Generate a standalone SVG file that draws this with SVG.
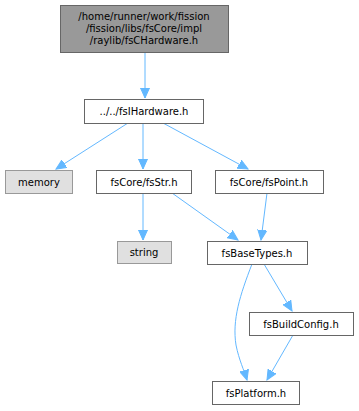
<svg xmlns="http://www.w3.org/2000/svg" width="359" height="411" viewBox="0 0 359 411">
<style>
text{font-family:"DejaVu Sans",sans-serif;font-size:10px;text-anchor:middle;fill:#000}
.n{fill:#fff;stroke:#666;stroke-width:1}
.sys{fill:#e0e0e0;stroke:#999;stroke-width:1}
.top{fill:#999;stroke:#666;stroke-width:1}
.e{fill:none;stroke:#63b8ff;stroke-width:1}
</style>
<defs>
<marker id="a" markerUnits="userSpaceOnUse" markerWidth="12" markerHeight="10" refX="10" refY="5" orient="auto">
<path d="M0,0.5 L10,5 L0,9.5 Z" fill="#63b8ff" stroke="#63b8ff"/>
</marker>
</defs>
<rect width="359" height="411" fill="#fff"/>
<g id="edges">
<path class="e" marker-end="url(#a)" d="M145,53 L145,98"/>
<path class="e" marker-end="url(#a)" d="M128,123 L56,169"/>
<path class="e" marker-end="url(#a)" d="M143,123 L143,169"/>
<path class="e" marker-end="url(#a)" d="M163,123 L248,169"/>
<path class="e" marker-end="url(#a)" d="M143,193 L143,240"/>
<path class="e" marker-end="url(#a)" d="M172,193 L238,240"/>
<path class="e" marker-end="url(#a)" d="M267,193 L261,240"/>
<path class="e" marker-end="url(#a)" d="M252,264 C240,295 232,320 236,345 C239,360 244,370 247,380"/>
<path class="e" marker-end="url(#a)" d="M264,264 L292,311"/>
<path class="e" marker-end="url(#a)" d="M293,335 L267,380"/>
</g>
<g id="n_top"><rect class="top" x="60.5" y="5.5" width="168" height="47"/>
<text x="144" y="20">/home/runner/work/fission</text>
<text x="144" y="32">/fission/libs/fsCore/impl</text>
<text x="144" y="44">/raylib/fsCHardware.h</text></g>
<g id="n_fsIHardware"><rect class="n" x="84.5" y="99.5" width="119" height="24"/><text x="144" y="115">../../fsIHardware.h</text></g>
<g id="n_memory"><rect class="sys" x="5.5" y="170.5" width="67" height="23"/><text x="39" y="186">memory</text></g>
<g id="n_fsStr"><rect class="n" x="96.5" y="170.5" width="95" height="23"/><text x="144" y="186">fsCore/fsStr.h</text></g>
<g id="n_fsPoint"><rect class="n" x="215.5" y="170.5" width="108" height="23"/><text x="269" y="186">fsCore/fsPoint.h</text></g>
<g id="n_string"><rect class="sys" x="117.5" y="241.5" width="54" height="22"/><text x="144" y="256">string</text></g>
<g id="n_fsBaseTypes"><rect class="n" x="207.5" y="241.5" width="100" height="23"/><text x="257" y="257">fsBaseTypes.h</text></g>
<g id="n_fsBuildConfig"><rect class="n" x="249.5" y="312.5" width="104" height="23"/><text x="301" y="328">fsBuildConfig.h</text></g>
<g id="n_fsPlatform"><rect class="n" x="212.5" y="381.5" width="87" height="23"/><text x="256" y="397">fsPlatform.h</text></g>
</svg>
